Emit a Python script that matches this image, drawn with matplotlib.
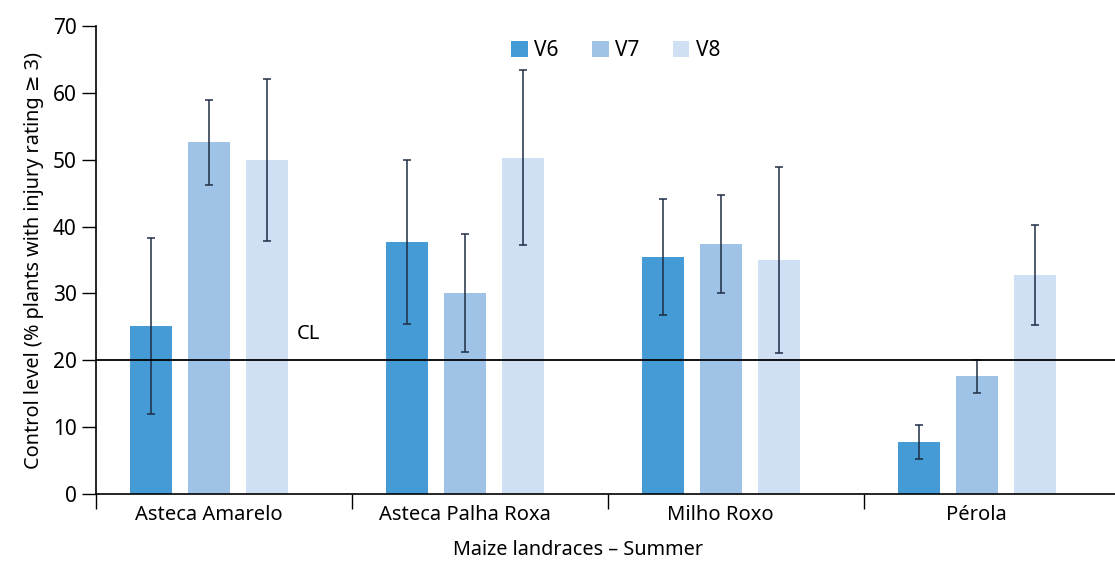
import numpy as np
import matplotlib
matplotlib.use('Agg')
import matplotlib.pyplot as plt

plt.rcParams['font.family'] = ['Noto Sans', 'DejaVu Sans']

V6_COLOR = '#459bd6'
V7_COLOR = '#9fc3e7'
V8_COLOR = '#cfe0f4'
ERR_COLOR = '#1f2d45'

landraces = ['Asteca Amarelo', 'Asteca Palha Roxa', 'Milho Roxo', 'Pérola']
stages = ['V6', 'V7', 'V8']

v6_mean = [25.1, 37.7, 35.4, 7.8]
v6_err = [13.2, 12.3, 8.7, 2.5]
v7_mean = [52.6, 30.1, 37.4, 17.6]
v7_err = [6.4, 8.8, 7.3, 2.5]
v8_mean = [50.0, 50.3, 35.0, 32.8]
v8_err = [12.1, 13.1, 13.9, 7.5]

control_level = 20
y_ticks = [0, 10, 20, 30, 40, 50, 60, 70]

series = (
    (v6_mean, v6_err, V6_COLOR),
    (v7_mean, v7_err, V7_COLOR),
    (v8_mean, v8_err, V8_COLOR),
)

fig = plt.figure(figsize=(11.15, 5.62), dpi=100)
ax = fig.add_axes([0.0861, 0.121, 0.9139, 0.8327])

x = np.arange(len(landraces)) - 0.06
width = 0.164
step = 0.2266

for i, (means, errs, color) in enumerate(series):
    pos = x + (i - 1) * step
    ax.bar(pos, means, width, color=color, label=stages[i], zorder=2)
    ax.errorbar(pos, means, yerr=errs, fmt='none', ecolor=ERR_COLOR,
                elinewidth=1.1, capsize=3, capthick=1.1, zorder=3)

ax.axhline(control_level, color='black', linewidth=1.3, zorder=4)
ax.text(0.33, control_level + 2.4, 'CL', fontsize=14.5, ha='center', va='bottom')

ax.set_ylim(0, 70)
ax.set_xlim(-0.5, 3.48)
ax.set_yticks(y_ticks)
ax.tick_params(axis='y', length=10, width=1, labelsize=15, pad=4)

ax.set_xticks(x)
ax.set_xticklabels(landraces, fontsize=14.5)
ax.set_xticks([-0.5, 0.5, 1.5, 2.5], minor=True)
ax.tick_params(axis='x', which='major', length=0, pad=8)
ax.tick_params(axis='x', which='minor', length=11, width=1)

ax.spines['top'].set_visible(False)
ax.spines['right'].set_visible(False)
ax.spines['left'].set_linewidth(1.2)
ax.spines['bottom'].set_linewidth(1.2)

ax.set_ylabel('Control level (% plants with injury rating \u2265 3)', fontsize=14.3, labelpad=6)
ax.set_xlabel('Maize landraces \u2013 Summer', fontsize=14.3)
ax.xaxis.set_label_coords(0.473, -0.098)

ax.legend(loc='upper center', bbox_to_anchor=(0.51, 1.01), ncol=3, frameon=False,
          fontsize=15, handlelength=0.8, handleheight=0.8, handletextpad=0.3,
          columnspacing=1.6)

fig.savefig('out.png', dpi=100, facecolor='white')
